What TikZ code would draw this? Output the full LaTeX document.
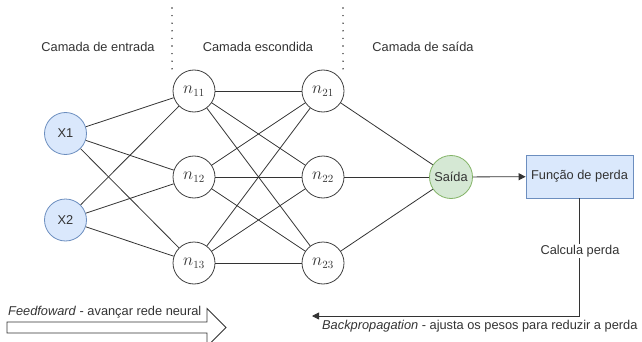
\documentclass[tikz,border=0pt]{standalone}
\usepackage{fontspec}
\setmainfont{Liberation Sans}
\usetikzlibrary{arrows.meta}
\definecolor{inblue}{HTML}{DAE8FC}
\definecolor{inbluedraw}{HTML}{6C8EBF}
\definecolor{outgreen}{HTML}{D5E8D4}
\definecolor{outgreendraw}{HTML}{82B366}
\definecolor{txt}{HTML}{333333}
\begin{document}
\begin{tikzpicture}[x=1pt,y=-1pt,
  every node/.style={font=\fontsize{12.8}{15}\selectfont, text=txt},
  neuron/.style={circle, draw=black!75, line width=0.8pt, minimum size=42pt, inner sep=0pt, fill=white},
  hidneuron/.style={neuron, font=\fontsize{16}{18}\selectfont},
  inneuron/.style={neuron, draw=inbluedraw, fill=inblue},
  outneuron/.style={neuron, draw=outgreendraw, fill=outgreen, minimum size=43pt},
  lossbox/.style={draw=inbluedraw, fill=inblue, line width=0.8pt, minimum width=107pt, minimum height=43pt, inner sep=0pt},
  edge/.style={draw=black!80, line width=0.8pt},
  sep/.style={draw=black!80, line width=1.6pt, dash pattern=on 0pt off 7.6pt, line cap=round},
  caption/.style={inner sep=0pt, anchor=center}
]
\useasboundingbox (0,0) rectangle (642,342);

% separators
\coordinate (s1a) at (172,8); \coordinate (s1b) at (172,70);
\coordinate (s2a) at (343,8); \coordinate (s2b) at (343,70);
\draw[sep] (s1a) -- (s1b);
\draw[sep] (s2a) -- (s2b);

% layer captions
\node[caption] (c1) at (98,47) {Camada de entrada};
\node[caption] (c2) at (258,47) {Camada escondida};
\node[caption] (c3) at (423,47) {Camada de saída};

% neurons
\node[inneuron] (x1) at (65.5,133.5) {X1};
\node[inneuron] (x2) at (65.5,220) {X2};
\node[hidneuron] (n11) at (194,91) {$n_{11}$};
\node[hidneuron] (n12) at (194,177) {$n_{12}$};
\node[hidneuron] (n13) at (194,263) {$n_{13}$};
\node[hidneuron] (n21) at (323,91) {$n_{21}$};
\node[hidneuron] (n22) at (323,177) {$n_{22}$};
\node[hidneuron] (n23) at (323,263) {$n_{23}$};
\node[outneuron] (out) at (451,177) {Saída};
\node[lossbox] (loss) at (579.5,176.5) {Função de perda};

% connections
\foreach \a in {x1,x2}{
  \foreach \b in {n11,n12,n13}{
    \draw[edge] (\a) -- (\b);
  }
}
\foreach \a in {n11,n12,n13}{
  \foreach \b in {n21,n22,n23}{
    \draw[edge] (\a) -- (\b);
  }
}
\foreach \a in {n21,n22,n23}{
  \draw[edge] (\a) -- (out);
}
\draw[edge, -{Triangle[length=7pt,width=7pt]}] (out) -- (loss);

% backpropagation
\coordinate (bcorner) at (loss.south |- 0,316);
\coordinate (bend) at (312,316);
\draw[edge, -{Triangle[length=7pt,width=7pt]}] (loss.south) -- (bcorner) -- (bend);
\node[fill=white, inner sep=1pt] (calc) at (580,251) {Calcula perda};
\node[anchor=west, inner sep=0pt] (bp) at (322,326) {\textit{Backpropagation} - ajusta os pesos para reduzir a perda};

% feedforward block arrow
\draw[draw=black!80, line width=0.8pt, fill=white, line join=miter]
  (7,322) -- (207,322) -- (207,308.5) -- (226,327.5) -- (207,346.5) -- (207,333) -- (7,333) -- cycle;
\node[anchor=west, inner sep=0pt] (fft) at (8,312) {\textit{Feedfoward} - avançar rede neural};
\end{tikzpicture}
\end{document}
